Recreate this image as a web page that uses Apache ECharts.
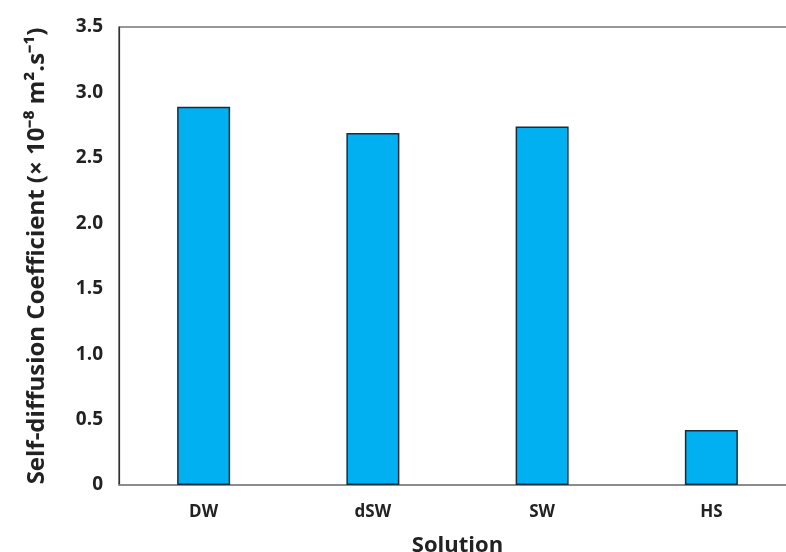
<!DOCTYPE html>
<html><head><meta charset="utf-8">
<script src="https://cdn.jsdelivr.net/npm/echarts@6/dist/echarts.min.js"></script>
<style>html,body{margin:0;padding:0;background:#fff}#c{width:786px;height:552px}</style>
</head><body><div id="c"></div>
<script>
const categories = ["DW", "dSW", "SW", "HS"];
const values = [2.89, 2.69, 2.74, 0.42];
const yTicks = ["0", "0.5", "1.0", "1.5", "2.0", "2.5", "3.0", "3.5"];
const xTitle = "Solution";
const yTitle = "Self-diffusion Coefficient (× 10⁻⁸ m².s⁻¹)";

const FONT = "Open Sans";
const chart = echarts.init(document.getElementById('c'), null, {renderer: 'canvas'});
chart.setOption({
  animation: false,
  backgroundColor: '#fff',
  grid: {left: 119, top: 27, width: 677, height: 458, outerBoundsMode: 'none', containLabel: false,
    show: true, borderColor: '#333', borderWidth: 1.2, backgroundColor: 'transparent'},
  xAxis: {
    type: 'category', data: categories,
    name: xTitle, nameLocation: 'middle', nameGap: 50,
    nameTextStyle: {fontFamily: FONT, fontWeight: 'bold', fontSize: 22, color: '#222'},
    axisLine: {show: true, lineStyle: {color: '#888', width: 1.5}},
    axisTick: {show: false},
    axisLabel: {fontFamily: FONT, fontWeight: 'bold', fontSize: 17, color: '#222', margin: 19},
    splitLine: {show: false}
  },
  yAxis: {
    type: 'value', min: 0, max: 3.5, interval: 0.5,
    name: yTitle, nameLocation: 'middle', nameGap: 70,
    nameTextStyle: {fontFamily: FONT, fontWeight: 'bold', fontSize: 24, color: '#222'},
    axisLine: {show: true, lineStyle: {color: '#333', width: 1.2}},
    axisTick: {show: false},
    splitLine: {show: false},
    axisLabel: {fontFamily: FONT, fontWeight: 'bold', fontSize: 19, color: '#222', margin: 16,
      formatter: function (v) { return yTicks[Math.round(v / 0.5)]; }}
  },
  series: [{
    type: 'bar', data: values, barWidth: 53,
    itemStyle: {color: '#00B0F0', borderColor: '#1c2b3a', borderWidth: 1.5}
  }]
});
</script></body></html>
